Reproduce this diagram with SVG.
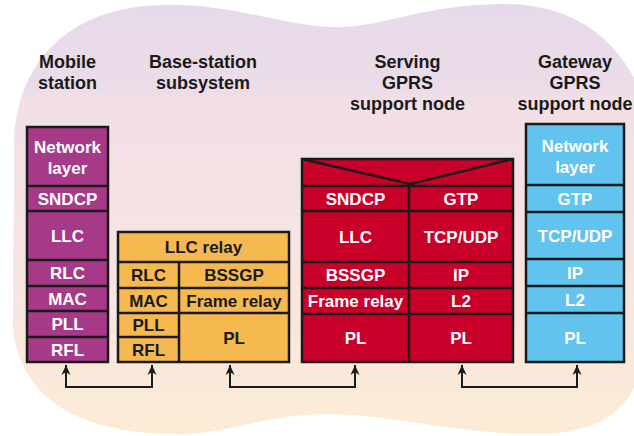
<svg xmlns="http://www.w3.org/2000/svg" width="634" height="436" viewBox="0 0 634 436">
  <defs>
    <linearGradient id="bg" x1="0" y1="0" x2="0" y2="1">
      <stop offset="0" stop-color="#e6d9ea"/>
      <stop offset="0.2" stop-color="#ecdce8"/>
      <stop offset="0.22" stop-color="#f2dfe6"/>
      <stop offset="0.55" stop-color="#f6e3e3"/>
      <stop offset="1" stop-color="#fcecd6"/>
    </linearGradient>
    <marker id="arrow" viewBox="-11 -6 12 12" refX="0" refY="0" markerWidth="12" markerHeight="12" markerUnits="userSpaceOnUse" orient="auto-start-reverse">
      <path d="M0,0 L-10,-4.5 L-7,0 L-10,4.5 Z" fill="#1a1a1a"/>
    </marker>
    <style>
      .hdr { font-family: "Liberation Sans", Arial, sans-serif; font-weight: bold; font-size: 18px; fill: #1a1a1a; text-anchor: middle; }
      .lbl { font-family: "Liberation Sans", Arial, sans-serif; font-weight: bold; font-size: 17px; text-anchor: middle; }
      .w { fill: #ffffff; }
      .k { fill: #1a1a1a; }
      .box { stroke: #1a1a1a; stroke-width: 2.5; }
      .ln { stroke: #1a1a1a; stroke-width: 2.5; fill: none; }
      .ms { fill: #a63a88; }
      .bss { fill: #f6b94f; }
      .sgsn { fill: #c8002a; }
      .ggsn { fill: #63c3ef; }
      .conn { stroke: #1a1a1a; stroke-width: 2; fill: none; }
    </style>
  </defs>

  <!-- backdrop -->
  <path d="M14,140 C18,60 70,8 160,5 C230,3 280,25 330,27 C380,29 420,5 500,4 C570,3 615,35 640,90 L640,360 C638,405 605,432 540,434 C470,436 380,412 320,414 C260,416 220,436 170,434 C80,432 22,400 13,330 Z" fill="url(#bg)"/>

  <!-- column headings -->
  <text class="hdr" x="67.5" y="68">Mobile</text>
  <text class="hdr" x="67.5" y="89">station</text>
  <text class="hdr" x="203" y="68">Base-station</text>
  <text class="hdr" x="203" y="89">subsystem</text>
  <text class="hdr" x="407.5" y="68">Serving</text>
  <text class="hdr" x="407.5" y="89">GPRS</text>
  <text class="hdr" x="407.5" y="110">support node</text>
  <text class="hdr" x="575" y="68">Gateway</text>
  <text class="hdr" x="575" y="89">GPRS</text>
  <text class="hdr" x="575" y="110">support node</text>

  <!-- Mobile station stack -->
  <g id="mobile-station">
    <rect class="box ms" x="27" y="127" width="81" height="235"/>
    <path class="ln" d="M27,186 H108 M27,211 H108 M27,260 H108 M27,286 H108 M27,311 H108 M27,337 H108"/>
    <text class="lbl w" x="67.5" y="153">Network</text>
    <text class="lbl w" x="67.5" y="174">layer</text>
    <text class="lbl w" x="67.5" y="205">SNDCP</text>
    <text class="lbl w" x="67.5" y="241.5">LLC</text>
    <text class="lbl w" x="67.5" y="279">RLC</text>
    <text class="lbl w" x="67.5" y="305">MAC</text>
    <text class="lbl w" x="67.5" y="330">PLL</text>
    <text class="lbl w" x="67.5" y="356">RFL</text>
  </g>

  <!-- Base-station subsystem stack -->
  <g id="base-station-subsystem">
    <rect class="box bss" x="118" y="232" width="171" height="130"/>
    <path class="ln" d="M118,262 H289 M118,288 H289 M118,313 H289 M118,337 H179 M179,262 V362"/>
    <text class="lbl k" x="203.5" y="253">LLC relay</text>
    <text class="lbl k" x="148.5" y="281">RLC</text>
    <text class="lbl k" x="234" y="281">BSSGP</text>
    <text class="lbl k" x="148.5" y="306.5">MAC</text>
    <text class="lbl k" x="234" y="306.5">Frame relay</text>
    <text class="lbl k" x="148.5" y="331">PLL</text>
    <text class="lbl k" x="148.5" y="355.5">RFL</text>
    <text class="lbl k" x="234" y="343.5">PL</text>
  </g>

  <!-- Serving GPRS support node stack -->
  <g id="serving-gprs-support-node">
    <rect class="box sgsn" x="302" y="159" width="211" height="203"/>
    <path class="ln" d="M302,159 L410,184 L513,159 M302,186 H513 M302,211 H513 M302,262 H513 M302,288 H513 M302,314 H513 M409,186 V362"/>
    <text class="lbl w" x="355.5" y="204.5">SNDCP</text>
    <text class="lbl w" x="461" y="204.5">GTP</text>
    <text class="lbl w" x="355.5" y="242.5">LLC</text>
    <text class="lbl w" x="461" y="242.5">TCP/UDP</text>
    <text class="lbl w" x="355.5" y="281">BSSGP</text>
    <text class="lbl w" x="461" y="281">IP</text>
    <text class="lbl w" x="355.5" y="307">Frame relay</text>
    <text class="lbl w" x="461" y="307">L2</text>
    <text class="lbl w" x="355.5" y="344">PL</text>
    <text class="lbl w" x="461" y="344">PL</text>
  </g>

  <!-- Gateway GPRS support node stack -->
  <g id="gateway-gprs-support-node">
    <rect class="box ggsn" x="526" y="124" width="98" height="238"/>
    <path class="ln" d="M526,185 H624 M526,212 H624 M526,259 H624 M526,286 H624 M526,313 H624"/>
    <text class="lbl w" x="575" y="152">Network</text>
    <text class="lbl w" x="575" y="173">layer</text>
    <text class="lbl w" x="575" y="204.5">GTP</text>
    <text class="lbl w" x="575" y="241.5">TCP/UDP</text>
    <text class="lbl w" x="575" y="278.5">IP</text>
    <text class="lbl w" x="575" y="305.5">L2</text>
    <text class="lbl w" x="575" y="343.5">PL</text>
  </g>

  <!-- peer links between adjacent stacks -->
  <g id="connectors">
    <path class="conn" d="M66,365 V387 H152 V365" marker-start="url(#arrow)" marker-end="url(#arrow)"/>
    <path class="conn" d="M230,365 V387 H355 V365" marker-start="url(#arrow)" marker-end="url(#arrow)"/>
    <path class="conn" d="M462,365 V387 H577 V365" marker-start="url(#arrow)" marker-end="url(#arrow)"/>
  </g>
</svg>
